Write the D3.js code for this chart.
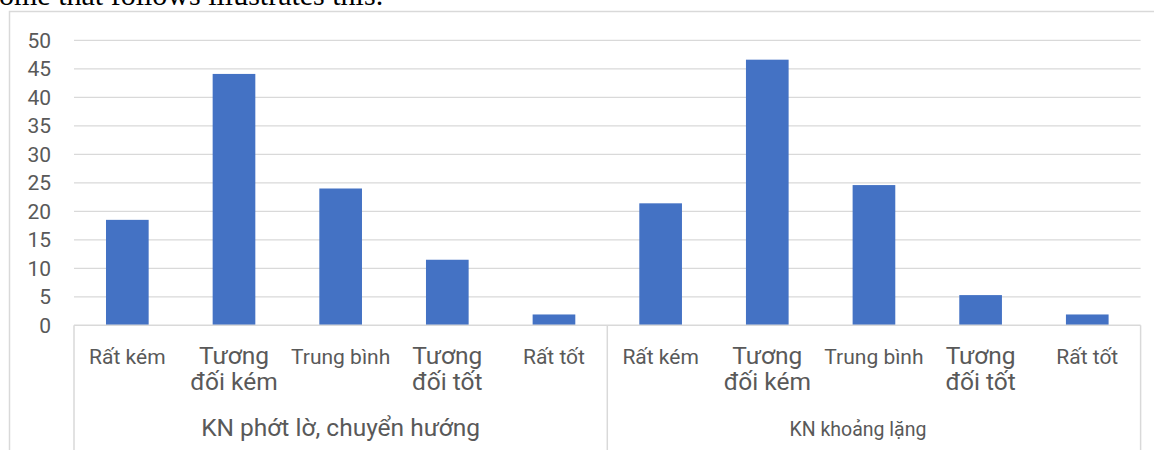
<!DOCTYPE html>
<html>
<head>
<meta charset="utf-8">
<script src="https://cdn.jsdelivr.net/npm/d3@7/dist/d3.min.js"></script>
<style>
  html, body { margin: 0; padding: 0; background: #fff; overflow: hidden; }
  svg { display: block; }
</style>
</head>
<body>
<svg id="chart" width="1154" height="450"></svg>
<script>
// Skill groups and rating levels
const groups = ["KN phớt lờ, chuyển hướng", "KN khoảng lặng"];
const levels = ["Rất kém", "Tương đối kém", "Trung bình", "Tương đối tốt", "Rất tốt"];
// Percentage of responses per level, one array per group
const valuesPhotLo = [18.5, 44.1, 24.0, 11.5, 1.9];
const valuesKhoangLang = [21.4, 46.6, 24.6, 5.3, 1.9];
const yTicks = [0, 5, 10, 15, 20, 25, 30, 35, 40, 45, 50];
const leadText = "ome that follows illustrates this.";

const seriesByGroup = [valuesPhotLo, valuesKhoangLang];
const rows = [];
groups.forEach((g, gi) => levels.forEach((lv, li) => {
  rows.push({ key: gi + "|" + li, group: g, gi, level: lv, value: seriesByGroup[gi][li] });
}));

const svg = d3.select("#chart");
const FONT = "Roboto, 'Open Sans', sans-serif";
const GRID = "#d9d9d9";
const TEXT = "#595959";

// Running text of the surrounding document, mostly above the view
svg.append("text")
  .attr("x", -1).attr("y", 5)
  .attr("font-family", "'Liberation Serif', 'Times New Roman', serif")
  .attr("font-size", 30)
  .attr("fill", "#000")
  .text(leadText);

// Chart area frame
svg.append("rect")
  .attr("x", 9.5).attr("y", 11.5)
  .attr("width", 1200).attr("height", 500)
  .attr("fill", "none").attr("stroke", GRID).attr("stroke-width", 1.5);

const plot = { left: 74, right: 1140.6, top: 40.3, bottom: 325.3 };

const x = d3.scaleBand()
  .domain(rows.map(d => d.key))
  .range([plot.left, plot.right])
  .paddingInner(0.6).paddingOuter(0.3);

const y = d3.scaleLinear().domain([0, 50]).range([plot.bottom, plot.top]);

// Horizontal gridlines
svg.append("g")
  .selectAll("line")
  .data(yTicks.filter(t => t > 0))
  .join("line")
  .attr("x1", plot.left).attr("x2", plot.right)
  .attr("y1", d => y(d)).attr("y2", d => y(d))
  .attr("stroke", GRID).attr("stroke-width", 1.3);

// Value axis labels
const yAxis = d3.axisLeft(y).tickValues(yTicks).tickSize(0).tickPadding(23);
const yg = svg.append("g").attr("transform", `translate(${plot.left},0)`).call(yAxis);
yg.select(".domain").remove();
yg.selectAll("text")
  .attr("font-family", FONT).attr("font-size", 21).attr("fill", TEXT);

// Bars
svg.append("g")
  .selectAll("rect")
  .data(rows)
  .join("rect")
  .attr("x", d => x(d.key))
  .attr("width", x.bandwidth())
  .attr("y", d => y(d.value))
  .attr("height", d => y(0) - y(d.value))
  .attr("fill", "#4472c4");

// Category axis line and group dividers
const axisG = svg.append("g");
axisG.append("line")
  .attr("x1", plot.left).attr("x2", plot.right)
  .attr("y1", y(0)).attr("y2", y(0))
  .attr("stroke", GRID).attr("stroke-width", 1.5);

const step = x.step();
const groupEdges = [plot.left, plot.left + levels.length * step, plot.right];
axisG.selectAll("line.div")
  .data(groupEdges)
  .join("line")
  .attr("class", "div")
  .attr("x1", d => d).attr("x2", d => d)
  .attr("y1", y(0)).attr("y2", 460)
  .attr("stroke", GRID).attr("stroke-width", 1.5);

// Level labels; those wider than a category slot wrap onto two larger lines
const levelLabels = axisG.selectAll("text.level")
  .data(rows)
  .join("text")
  .attr("class", "level")
  .attr("font-family", FONT).attr("font-size", 21).attr("fill", TEXT)
  .attr("text-anchor", "middle")
  .attr("x", d => x(d.key) + x.bandwidth() / 2)
  .attr("y", 364)
  .text(d => d.level);

levelLabels.each(function(d) {
  const el = d3.select(this);
  if (this.getComputedTextLength() > step - 2) {
    const words = d.level.split(" ");
    const first = words.slice(0, 1).join(" ");
    const rest = words.slice(1).join(" ");
    const cx = x(d.key) + x.bandwidth() / 2;
    el.text(null).attr("font-size", 24.5);
    el.append("tspan").attr("x", cx).attr("y", 364).text(first);
    el.append("tspan").attr("x", cx).attr("y", 390).text(rest);
  }
});

// Group labels
const groupLabelStyle = [
  { size: 24.5, shift: 0 },
  { size: 19.5, shift: -16 }
];
axisG.selectAll("text.group")
  .data(groups)
  .join("text")
  .attr("class", "group")
  .attr("font-family", FONT)
  .attr("font-size", (d, i) => groupLabelStyle[i].size)
  .attr("fill", TEXT)
  .attr("text-anchor", "middle")
  .attr("x", (d, i) => (groupEdges[i] + groupEdges[i + 1]) / 2 + groupLabelStyle[i].shift)
  .attr("y", 435.5)
  .text(d => d);
</script>
</body>
</html>
